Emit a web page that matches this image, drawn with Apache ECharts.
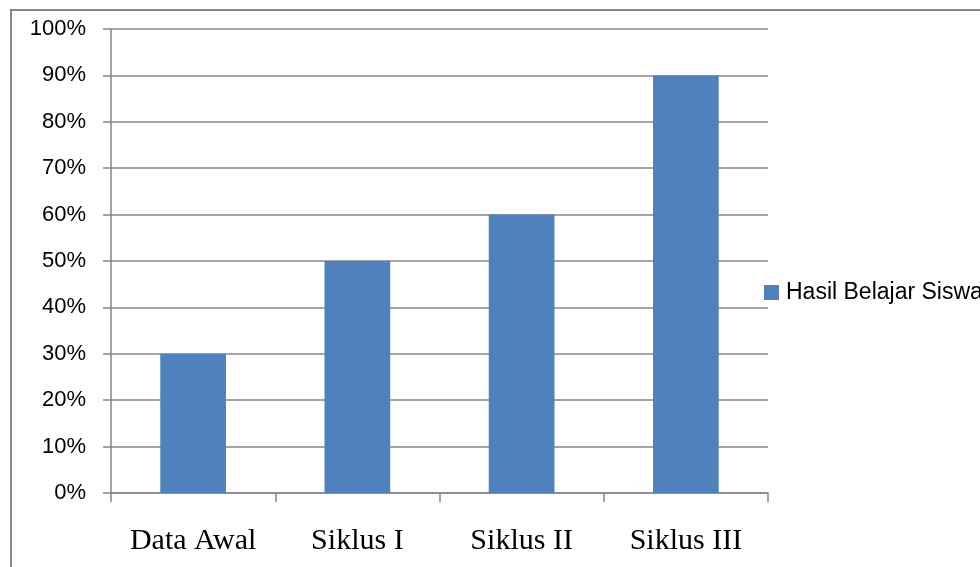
<!DOCTYPE html>
<html>
<head>
<meta charset="utf-8">
<style>
  html, body { margin: 0; padding: 0; background: #fff; }
  #chart { width: 980px; height: 567px; }
</style>
<script src="https://cdn.jsdelivr.net/npm/echarts@6/dist/echarts.min.js"></script>
</head>
<body>
<div id="chart"></div>
<script>
// Learning outcome percentages per cycle
const categories = ['Data Awal', 'Siklus I', 'Siklus II', 'Siklus III'];
const hasilBelajar = [30, 50, 60, 90];
const seriesName = 'Hasil Belajar Siswa';

const chart = echarts.init(document.getElementById('chart'), null, { renderer: 'canvas' });
const lineColor = '#868686';

chart.setOption({
  animation: false,
  backgroundColor: '#ffffff',
  graphic: [{
    type: 'rect',
    shape: { x: 11, y: 10, width: 1200, height: 800 },
    style: { fill: 'none', stroke: lineColor, lineWidth: 2 },
    silent: true
  }],
  legend: {
    data: [seriesName],
    left: 764,
    top: 281,
    padding: 0,
    itemWidth: 15,
    itemHeight: 15,
    icon: 'rect',
    textStyle: { fontFamily: 'Liberation Sans', fontSize: 23, color: '#000', padding: [0, 0, 0, 2] }
  },
  grid: { left: 111, right: 212, top: 29, bottom: 74, containLabel: false },
  xAxis: {
    type: 'category',
    data: categories,
    axisLine: { lineStyle: { color: lineColor, width: 1.5 } },
    axisTick: { show: true, interval: 0, length: 9, lineStyle: { color: lineColor, width: 1.5 } },
    axisLabel: {
      interval: 0,
      margin: 33,
      fontFamily: 'Liberation Serif',
      fontSize: 30,
      color: '#000',
      lineHeight: 30
    }
  },
  yAxis: {
    type: 'value',
    min: 0,
    max: 100,
    interval: 10,
    axisLine: { show: true, lineStyle: { color: lineColor, width: 1.5 } },
    axisTick: { show: true, length: 8, lineStyle: { color: lineColor, width: 1.5 } },
    splitLine: { show: true, lineStyle: { color: lineColor, width: 1.5 } },
    axisLabel: {
      formatter: '{value}%',
      margin: 25,
      fontFamily: 'Liberation Sans',
      fontSize: 22,
      color: '#000'
    }
  },
  series: [{
    name: seriesName,
    type: 'bar',
    data: hasilBelajar,
    barWidth: '40%',
    itemStyle: { color: '#4F81BD' }
  }]
});
</script>
</body>
</html>
